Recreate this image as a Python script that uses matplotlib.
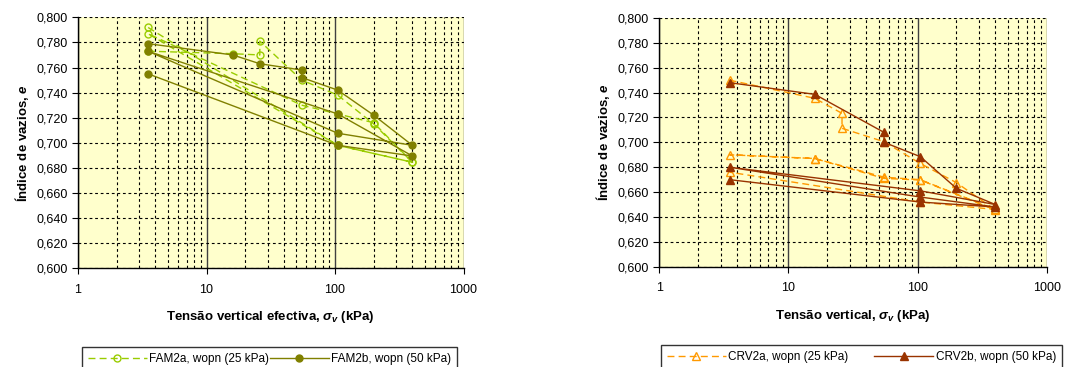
import matplotlib
matplotlib.use("Agg")
import matplotlib.pyplot as plt
from matplotlib.ticker import FixedLocator, FuncFormatter, LogLocator, NullFormatter

plt.rcParams["font.family"] = ["Liberation Sans", "DejaVu Sans"]
plt.rcParams["mathtext.fontset"] = "custom"
plt.rcParams["mathtext.it"] = "Liberation Sans:italic:bold"
plt.rcParams["mathtext.rm"] = "Liberation Sans:bold"
plt.rcParams["mathtext.bf"] = "Liberation Sans:bold"

# FAM2 tests (left panel)
fam2a_stress = [3.5, 16, 26, 26, 55, 105, 200, 400, 105, 3.5, 55, 105, 200, 400, 105, 3.5]
fam2a_e = [0.773, 0.771, 0.770, 0.781, 0.750, 0.738, 0.715, 0.6845, 0.698, 0.787,
           0.730, 0.723, 0.716, 0.6845, 0.698, 0.792]
fam2b_stress = [3.5, 16, 26, 55, 55, 105, 200, 400, 105, 3.5, 105, 400, 105, 3.5]
fam2b_e = [0.779, 0.770, 0.763, 0.758, 0.752, 0.742, 0.722, 0.698, 0.7076, 0.773,
           0.723, 0.6895, 0.698, 0.755]

# CRV2 tests (right panel)
crv2a_stress = [3.5, 16, 26, 26, 55, 105, 200, 400, 105, 55, 16, 3.5, 16, 55, 105, 400, 105, 3.5]
crv2a_e = [0.750, 0.7354, 0.7233, 0.7113, 0.7005, 0.683, 0.6676, 0.6456, 0.6697, 0.671,
           0.687, 0.690, 0.687, 0.672, 0.670, 0.646, 0.652, 0.676]
crv2b_stress = [3.5, 16, 55, 55, 105, 200, 400, 105, 3.5, 105, 400, 105, 3.5]
crv2b_e = [0.748, 0.7386, 0.708, 0.700, 0.6885, 0.663, 0.650, 0.661, 0.680, 0.656,
           0.648, 0.652, 0.670]

labels_left = ["FAM2a, wopn (25 kPa)", "FAM2b, wopn (50 kPa)"]
labels_right = ["CRV2a, wopn (25 kPa)", "CRV2b, wopn (50 kPa)"]
xlabels = ["Tensão vertical efectiva, $\\sigma_v$ (kPa)", "Tensão vertical, $\\sigma_v$ (kPa)"]
ylabel = "Índice de vazios, $e$"

W, H = 1075, 367
fig = plt.figure(figsize=(W / 100, H / 100), dpi=100)


def px_axes(x0, y0, x1, y1):
    return fig.add_axes([x0 / W, 1 - y1 / H, (x1 - x0) / W, (y1 - y0) / H])


def style_axes(ax, xlabel):
    ax.set_facecolor("#FFFFCC")
    ax.set_xscale("log")
    ax.set_xlim(1, 1000)
    ax.set_ylim(0.6, 0.8)
    ax.yaxis.set_major_locator(FixedLocator([0.6 + 0.02 * i for i in range(11)]))
    ax.yaxis.set_major_formatter(FuncFormatter(lambda v, p: f"{v:.3f}".replace(".", ",")))
    ax.xaxis.set_major_locator(LogLocator(base=10))
    ax.xaxis.set_minor_locator(LogLocator(base=10, subs=range(2, 10)))
    ax.xaxis.set_minor_formatter(NullFormatter())
    ax.xaxis.set_major_formatter(FuncFormatter(lambda v, p: f"{v:g}"))
    ax.grid(True, which="major", axis="y", color="black", linestyle=(0, (2.5, 2.5)), linewidth=0.8)
    ax.grid(True, which="minor", axis="x", color="black", linestyle=(0, (2.5, 2.5)), linewidth=0.8)
    ax.grid(True, which="major", axis="x", color="#404040", linestyle="-", linewidth=1.0)
    ax.set_axisbelow(True)
    ax.tick_params(axis="both", which="major", labelsize=9, length=4, width=0.8, direction="out")
    ax.tick_params(axis="x", which="minor", length=0)
    ax.tick_params(axis="x", pad=7)
    for side in ("top", "right"):
        ax.spines[side].set_visible(False)
    for side in ("left", "bottom"):
        ax.spines[side].set_linewidth(1.0)
    ax.set_xlabel(xlabel, fontsize=9.5, fontweight="bold", labelpad=10)
    ax.set_ylabel(ylabel, fontsize=9.5, fontweight="bold", labelpad=4)


dash = (0, (5, 3))

ax1 = px_axes(78, 17.3, 463.5, 268.3)
style_axes(ax1, xlabels[0])
l1, = ax1.plot(fam2a_stress, fam2a_e, color="#99CC00", linestyle=dash, linewidth=1.0,
               marker="o", markersize=5, markerfacecolor="none", markeredgewidth=1.0,
               label=labels_left[0])
l2, = ax1.plot(fam2b_stress, fam2b_e, color="#808000", linestyle="-", linewidth=1.0,
               marker="o", markersize=5, markerfacecolor="#808000", label=labels_left[1])

ax2 = px_axes(659.3, 18, 1046.7, 266.7)
style_axes(ax2, xlabels[1])
l3, = ax2.plot(crv2a_stress, crv2a_e, color="#FF9900", linestyle=dash, linewidth=1.0,
               marker="^", markersize=6, markerfacecolor="none", markeredgewidth=1.0,
               label=labels_right[0])
l4, = ax2.plot(crv2b_stress, crv2b_e, color="#993300", linestyle="-", linewidth=1.0,
               marker="^", markersize=6, markerfacecolor="#993300", label=labels_right[1])

legend_kw = dict(loc="upper left", mode="expand", ncol=2, fontsize=8.5, frameon=True,
                 fancybox=False, edgecolor="black", handlelength=5, borderaxespad=0,
                 columnspacing=1.5, handletextpad=0.2, borderpad=0.5)
leg1 = fig.legend(handles=[l1, l2], bbox_to_anchor=(82 / W, 0, 375 / W, 1 - 347 / H), **legend_kw)
leg2 = fig.legend(handles=[l3, l4], bbox_to_anchor=(661 / W, 0, 401 / W, 1 - 345 / H), **legend_kw)
for leg in (leg1, leg2):
    leg.get_frame().set_linewidth(1.0)

fig.savefig("out.png", dpi=100)
